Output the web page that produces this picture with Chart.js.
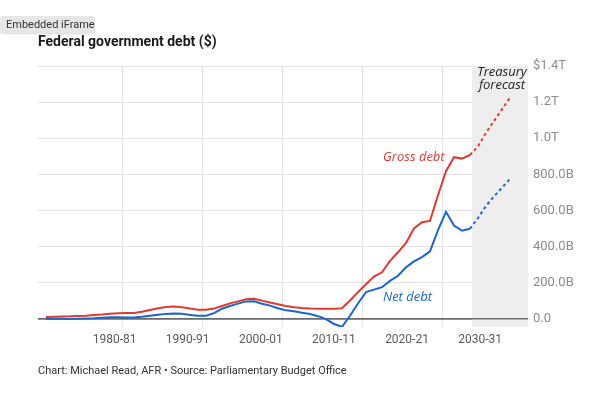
<!DOCTYPE html>
<html>
<head>
<meta charset="utf-8">
<script src="https://cdn.jsdelivr.net/npm/chart.js@4.4.1/dist/chart.umd.min.js"></script>
<style>
  html, body { margin: 0; padding: 0; background: #fff; }
  #wrap { position: relative; width: 600px; height: 396px; overflow: hidden; font-family: Roboto, sans-serif; }
  #chart { position: absolute; left: 0; top: 0; }
  .txt { position: absolute; white-space: nowrap; line-height: 1; }
  #iframeTag { left: 0; top: 16px; width: 89px; height: 17px; padding-left: 6px; background: #e6e6e6;
    border-radius: 3px; font-size: 11px; line-height: 17px; color: #333; box-shadow: 0 1px 2px rgba(0,0,0,0.15); }
  #title { left: 38px; top: 34px; font-size: 14px; font-weight: 700; color: #1a1a1a; }
  #footer { left: 38px; top: 365px; font-size: 11px; color: #333; }
  .note { font-family: "Open Sans", sans-serif; font-style: italic; font-size: 13px; }
  #gross { left: 383px; top: 150px; color: #e03a2f; }
  #net { left: 383px; top: 290px; color: #1a67c9; }
  #forecast { left: 472px; top: 65px; width: 60px; text-align: center; line-height: 12.5px; color: #222; }
</style>
</head>
<body>
<div id="wrap">
  <canvas id="chart" width="600" height="396"></canvas>
  <div class="txt" id="iframeTag">Embedded iFrame</div>
  <div class="txt" id="title">Federal government debt ($)</div>
  <div class="txt note" id="gross">Gross debt</div>
  <div class="txt note" id="net">Net debt</div>
  <div class="txt note" id="forecast">Treasury<br>forecast</div>
  <div class="txt" id="footer">Chart: Michael Read, AFR • Source: Parliamentary Budget Office</div>
</div>
<script>
// fiscal years, by starting year (1970 = 1970-71)
const years = [
  1970, 1971, 1972, 1973, 1974, 1975, 1976, 1977, 1978, 1979,
  1980, 1981, 1982, 1983, 1984, 1985, 1986, 1987, 1988, 1989,
  1990, 1991, 1992, 1993, 1994, 1995, 1996, 1997, 1998, 1999,
  2000, 2001, 2002, 2003, 2004, 2005, 2006, 2007, 2008, 2009,
  2010, 2011, 2012, 2013, 2014, 2015, 2016, 2017, 2018, 2019,
  2020, 2021, 2022, 2023
];

// $ billions
const grossDebt = [
  10, 11, 12, 13, 15, 17, 20, 23, 27, 30,
  31, 32, 38, 48, 58, 65, 68, 64, 56, 50,
  50, 56, 70, 85, 96, 108, 111, 100, 90, 80,
  70, 64, 59, 56, 55, 55, 55, 58, 101, 147,
  191, 233, 257, 320, 368, 420, 500, 534, 542, 684,
  817, 895, 887, 907
];

const netDebt = [
  0.3, -0.5, -0.8, -1.9, -0.7, 1.6, 2.4, 5.0, 7.6, 8.2,
  6.2, 6.0, 10.3, 16.7, 22.1, 26.7, 28.4, 26.8, 21.0, 16.1,
  16.9, 31.1, 55.2, 70.2, 83.5, 95.8, 96.3, 82.9, 72.5, 57.8,
  46.2, 40.7, 33, 26, 14, -2, -29.2, -44.8, 16.1, 84.5,
  147.3, 161.3, 174.5, 209.6, 238.0, 284.5, 317.7, 341.0, 373.6, 491.2,
  591.9, 515.8, 487.7, 498.6
];

// Treasury forecast (starts from last actual)
const forecastYears = [2023, 2024, 2025, 2026, 2027, 2028];
const grossForecast = [907, 955, 1030, 1095, 1160, 1225];
const netForecast = [498.6, 558, 625, 677, 726, 775];

const xTickYears = [1980, 1990, 2000, 2010, 2020, 2030];
const xTickLabels = ['1980-81', '1990-91', '2000-01', '2010-11', '2020-21', '2030-31'];
const gridYears = [1979.6, 1989.6, 1999.6, 2009.6, 2019.6, 2029.6];
const yTicks = [0, 200, 400, 600, 800, 1000, 1200, 1400];
const yTickLabels = ['0.0', '200.0B', '400.0B', '600.0B', '800.0B', '1.0T', '1.2T', '$1.4T'];

const RED = '#e03a2f';
const BLUE = '#1a67c9';

const toPoints = (xs, ys) => xs.map((x, i) => ({ x: x, y: ys[i] }));

const forecastBand = {
  id: 'forecastBand',
  beforeDatasetsDraw(chart) {
    const { ctx, chartArea, scales } = chart;
    const left = scales.x.getPixelForValue(forecastYears[0] + 0.25);
    ctx.save();
    ctx.fillStyle = '#eeeeee';
    ctx.fillRect(left, chartArea.top, chartArea.right - left, chartArea.bottom - chartArea.top);
    const y0 = scales.y.getPixelForValue(0);
    ctx.strokeStyle = '#6b6b6b';
    ctx.lineWidth = 1.5;
    ctx.beginPath();
    ctx.moveTo(chartArea.left, y0);
    ctx.lineTo(chartArea.right, y0);
    ctx.stroke();
    ctx.restore();
  }
};

Chart.defaults.font.family = 'Roboto, sans-serif';

new Chart(document.getElementById('chart'), {
  type: 'line',
  data: {
    datasets: [
      { label: 'Gross debt', data: toPoints(years, grossDebt), borderColor: RED, borderWidth: 2 },
      { label: 'Net debt', data: toPoints(years, netDebt), borderColor: BLUE, borderWidth: 2 },
      { label: 'Gross debt forecast', data: toPoints(forecastYears, grossForecast), borderColor: RED, borderWidth: 2, borderDash: [3, 3] },
      { label: 'Net debt forecast', data: toPoints(forecastYears, netForecast), borderColor: BLUE, borderWidth: 2, borderDash: [3, 3] }
    ]
  },
  options: {
    responsive: false,
    animation: false,
    devicePixelRatio: 1,
    layout: { padding: { left: 38, top: 66, right: 0, bottom: 49 } },
    elements: { point: { radius: 0 }, line: { tension: 0, fill: false } },
    plugins: { legend: { display: false }, tooltip: { enabled: false } },
    scales: {
      x: {
        type: 'linear',
        min: 1969,
        max: 2030.25,
        afterBuildTicks: (s) => { s.ticks = gridYears.map((v) => ({ value: v })); },
        afterFit: (s) => { s.height = 0; },
        ticks: { display: false },
        grid: { color: '#e3e3e3', drawTicks: false },
        border: { display: false }
      },
      xLabels: {
        type: 'linear',
        position: 'bottom',
        weight: 1,
        min: 1969.52,
        max: 2036.55,
        afterBuildTicks: (s) => { s.ticks = xTickYears.map((v) => ({ value: v })); },
        afterFit: (s) => { s.height = 20; },
        ticks: {
          padding: 6,
          color: '#5a5a5a',
          font: { size: 12 },
          maxRotation: 0,
          callback: (v, i) => xTickLabels[i]
        },
        grid: { display: false, drawTicks: false },
        border: { display: false }
      },
      y: {
        position: 'right',
        min: -46,
        max: 1400,
        afterBuildTicks: (s) => { s.ticks = yTicks.map((v) => ({ value: v })); },
        afterFit: (s) => { s.width = 72; },
        ticks: {
          padding: 5,
          color: '#8c8c8c',
          font: { size: 13 },
          callback: (v, i) => yTickLabels[i]
        },
        grid: {
          drawTicks: false,
          color: (c) => (c.tick && c.tick.value === 0 ? '#6b6b6b' : '#e3e3e3'),
          lineWidth: (c) => (c.tick && c.tick.value === 0 ? 1.5 : 1)
        },
        border: { display: false }
      }
    }
  },
  plugins: [forecastBand]
});
</script>
</body>
</html>
